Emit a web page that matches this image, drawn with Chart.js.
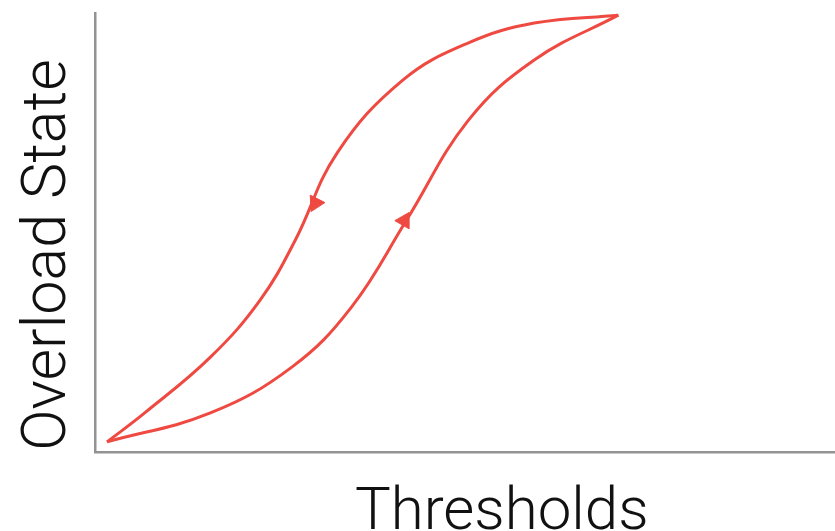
<!DOCTYPE html>
<html>
<head>
<meta charset="utf-8">
<script src="https://cdn.jsdelivr.net/npm/chart.js@4/dist/chart.umd.min.js"></script>
<style>
  html, body { margin: 0; padding: 0; background: #ffffff; overflow: hidden; width: 835px; height: 531px; }
  canvas { display: block; }
</style>
</head>
<body>
<canvas id="c" width="919" height="531"></canvas>
<script>
// Axis titles
const xTitle = 'Thresholds';
const yTitle = 'Overload State';

// Rising branch (threshold increasing)
const riseX = [0.15, 1.44, 2.46, 3.20, 3.89, 4.66, 5.48, 6.53];
const riseY = [0.23, 0.89, 1.94, 3.30, 5.29, 7.56, 8.93, 9.95];

// Falling branch (threshold decreasing)
const fallX = [6.53, 5.48, 4.66, 3.84, 3.02, 2.50, 2.06, 1.44, 0.62, 0.15];
const fallY = [9.95, 9.77, 9.32, 8.47, 6.81, 4.83, 3.46, 2.16, 0.89, 0.23];

// Direction arrows (position and heading in degrees)
const arrowX = [2.75, 3.86];
const arrowY = [5.67, 5.27];
const arrowAngle = [207, 30];

const red = '#EF4A42';
const pts = (xs, ys) => xs.map((x, i) => ({ x: x, y: ys[i] }));

new Chart(document.getElementById('c'), {
  type: 'scatter',
  data: {
    datasets: [
      {
        data: pts(riseX, riseY),
        showLine: true,
        borderColor: red,
        borderWidth: 3,
        tension: 0.4,
        pointRadius: 0,
        fill: false
      },
      {
        data: pts(fallX, fallY),
        showLine: true,
        borderColor: red,
        borderWidth: 3,
        tension: 0.4,
        pointRadius: 0,
        fill: false
      },
      {
        data: pts(arrowX, arrowY),
        showLine: false,
        pointStyle: 'triangle',
        pointRadius: 9.5,
        pointRotation: arrowAngle,
        backgroundColor: red,
        borderColor: red,
        borderWidth: 1
      }
    ]
  },
  options: {
    responsive: false,
    animation: false,
    devicePixelRatio: 1,
    layout: { padding: { left: 0, top: 13, right: 0, bottom: 34 } },
    plugins: {
      legend: { display: false },
      tooltip: { enabled: false },
      title: {
        display: true,
        text: yTitle,
        position: 'left',
        fullSize: true,
        color: '#111111',
        font: { family: 'Roboto', size: 61, weight: 300, lineHeight: 1 },
        padding: { top: 19, bottom: 15 }
      }
    },
    scales: {
      x: {
        type: 'linear',
        min: 0,
        max: 10.15,
        grid: { display: false, drawTicks: false },
        ticks: { display: false },
        border: { display: true, color: '#939393', width: 2.5 },
        title: {
          display: true,
          text: xTitle,
          color: '#111111',
          font: { family: 'Roboto', size: 60, weight: 300, lineHeight: 1 },
          padding: { top: 32, bottom: -47 }
        }
      },
      y: {
        type: 'linear',
        min: 0,
        max: 10,
        grid: { display: false, drawTicks: false },
        ticks: { display: false },
        border: { display: true, color: '#939393', width: 2.5 }
      }
    }
  }
});
</script>
</body>
</html>
